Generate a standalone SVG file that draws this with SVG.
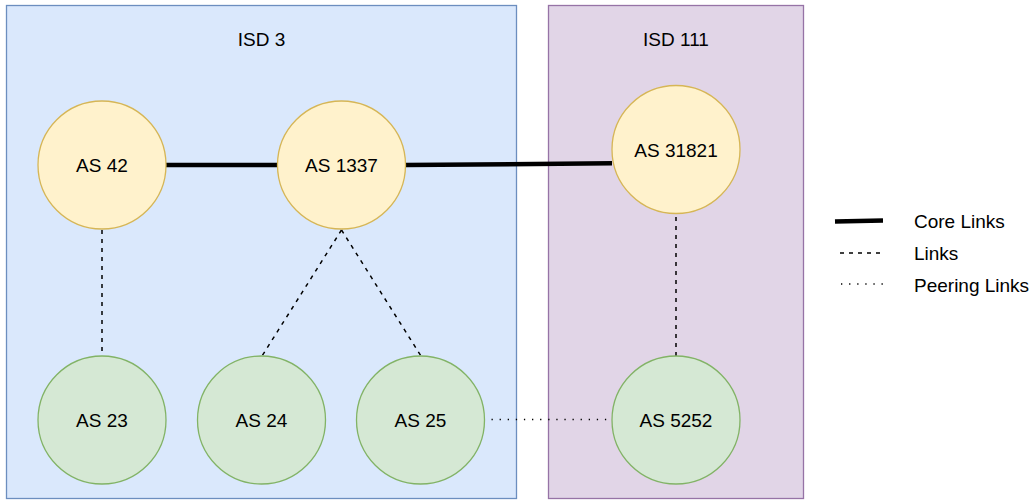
<svg xmlns="http://www.w3.org/2000/svg" width="1032" height="500" viewBox="0 0 1032 500">
  <style>
    text { font-family: "Liberation Sans", Arial, sans-serif; font-size: 19px; fill: #000; }
    .mid { text-anchor: middle; }
    .isd-blue { fill: #dae8fc; stroke: #6c8ebf; stroke-width: 1.3; }
    .isd-purple { fill: #e1d5e7; stroke: #9673a6; stroke-width: 1.3; }
    .core-as { fill: #fff2cc; stroke: #d6b656; stroke-width: 1.3; }
    .leaf-as { fill: #d5e8d4; stroke: #82b366; stroke-width: 1.3; }
    .core { stroke: #000; stroke-width: 4.5; fill: none; }
    .link { stroke: #000; stroke-width: 1.5; stroke-dasharray: 4 5; fill: none; }
    .peer { stroke: #000; stroke-width: 1.3; stroke-dasharray: 1.3 6.8; fill: none; }
  </style>

  <!-- isolation domains -->
  <g id="isd3">
    <rect class="isd-blue" x="6.5" y="5.5" width="510" height="493"/>
    <text class="mid" x="261.5" y="46">ISD 3</text>
  </g>
  <g id="isd111">
    <rect class="isd-purple" x="548.5" y="5.5" width="255" height="493"/>
    <text class="mid" x="676" y="46">ISD 111</text>
  </g>

  <!-- links between ASes -->
  <g id="connectors">
    <line class="core" x1="166" y1="165" x2="277.5" y2="165"/>
    <line class="core" x1="405.5" y1="165" x2="612" y2="163.3"/>
    <line class="link" x1="102" y1="230" x2="102" y2="356"/>
    <line class="link" x1="341.5" y1="230" x2="262" y2="356"/>
    <line class="link" x1="341.5" y1="230" x2="421" y2="356"/>
    <line class="link" x1="676" y1="217" x2="676" y2="356"/>
    <line class="peer" x1="491.5" y1="419.5" x2="612" y2="419.5"/>
  </g>

  <!-- core ASes -->
  <g id="as42">
    <circle class="core-as" cx="102" cy="165" r="64"/>
    <text class="mid" x="102" y="172">AS 42</text>
  </g>
  <g id="as1337">
    <circle class="core-as" cx="341.5" cy="165" r="64"/>
    <text class="mid" x="341.5" y="172">AS 1337</text>
  </g>
  <g id="as31821">
    <circle class="core-as" cx="676" cy="149.5" r="64"/>
    <text class="mid" x="676" y="157">AS 31821</text>
  </g>

  <!-- non-core ASes -->
  <g id="as23">
    <circle class="leaf-as" cx="102" cy="420" r="64"/>
    <text class="mid" x="102" y="427">AS 23</text>
  </g>
  <g id="as24">
    <circle class="leaf-as" cx="261.5" cy="420" r="64"/>
    <text class="mid" x="261.5" y="427">AS 24</text>
  </g>
  <g id="as25">
    <circle class="leaf-as" cx="420.5" cy="420" r="64"/>
    <text class="mid" x="420.5" y="427">AS 25</text>
  </g>
  <g id="as5252">
    <circle class="leaf-as" cx="676" cy="420" r="64"/>
    <text class="mid" x="676" y="427">AS 5252</text>
  </g>

  <!-- legend -->
  <g id="legend">
    <line class="core" x1="835" y1="221.5" x2="883" y2="220.5"/>
    <text x="914" y="228">Core Links</text>
    <line class="link" x1="840" y1="253" x2="883" y2="253"/>
    <text x="914" y="260">Links</text>
    <line class="peer" x1="841" y1="284" x2="884" y2="284"/>
    <text x="914" y="292">Peering Links</text>
  </g>
</svg>
